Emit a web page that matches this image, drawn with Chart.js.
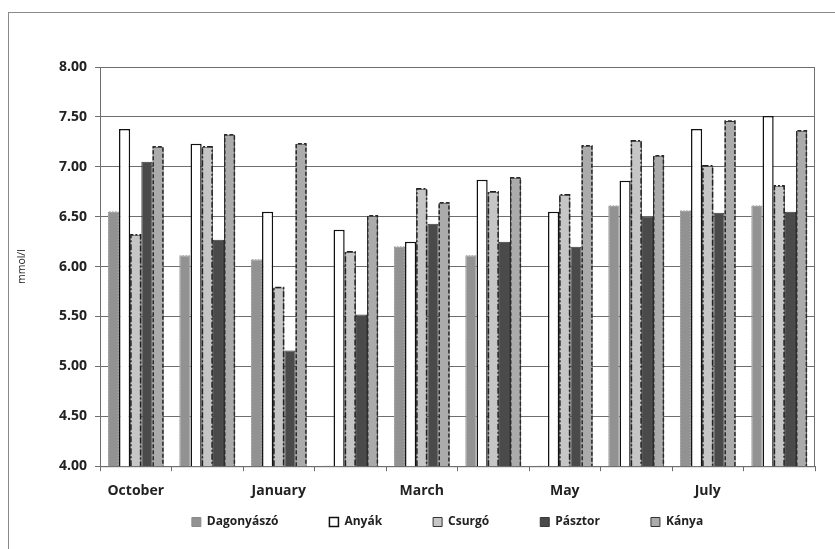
<!DOCTYPE html>
<html>
<head>
<meta charset="utf-8">
<script src="https://cdn.jsdelivr.net/npm/chart.js"></script>
<style>
  body { margin: 0; background: #fff; }
  #wrap { position: relative; width: 835px; height: 549px; overflow: hidden; }
  #frame { position: absolute; left: 8px; top: 12px; width: 900px; height: 600px;
           border-left: 1px solid #8a8a8a; border-top: 1px solid #8a8a8a; }
  canvas { position: absolute; left: 0; top: 0; }
</style>
</head>
<body>
<div id="wrap">
  <div id="frame"></div>
  <canvas id="chart" width="835" height="549"></canvas>
</div>
<script>
const months = ['October', 'November', 'January', 'February', 'March', 'April', 'May', 'June', 'July', 'August'];
const dagonyaszo = [6.55, 6.11, 6.07, null, 6.20, 6.11, null, 6.61, 6.56, 6.61];
const anyak      = [7.38, 7.23, 6.55, 6.37, 6.25, 6.87, 6.55, 6.86, 7.38, 7.51];
const csurgo     = [6.32, 7.20, 5.79, 6.15, 6.78, 6.75, 6.72, 7.26, 7.01, 6.81];
const pasztor    = [7.05, 6.27, 5.16, 5.52, 6.43, 6.25, 6.20, 6.50, 6.54, 6.55];
const kanya      = [7.20, 7.32, 7.23, 6.51, 6.64, 6.89, 7.21, 7.11, 7.46, 7.36];
const yTicks = [4.00, 4.50, 5.00, 5.50, 6.00, 6.50, 7.00, 7.50, 8.00];

const FONT = '"Open Sans", "Liberation Sans", sans-serif';
const LEGEND_PAD = 51;

// dashed outlines drawn on top of bars (bar borders can't be dashed in chart.js)
const dashOutline = {
  id: 'dashOutline',
  afterDatasetsDraw(chart) {
    const ctx = chart.ctx;
    const bottom = chart.chartArea.bottom;
    chart.data.datasets.forEach((ds, i) => {
      if (!ds.outlineDash) return;
      const meta = chart.getDatasetMeta(i);
      ctx.save();
      ctx.strokeStyle = ds.outlineColor;
      ctx.lineWidth = ds.outlineWidth || 1.5;
      ctx.setLineDash(ds.outlineDash);
      meta.data.forEach(el => {
        const p = el.getProps(['x', 'y', 'base', 'width'], true);
        if (!Number.isFinite(p.y)) return;
        const l = p.x - p.width / 2 + 0.75, r = p.x + p.width / 2 - 0.75;
        const b = Math.min(p.base, bottom);
        ctx.beginPath();
        ctx.moveTo(l, b);
        ctx.lineTo(l, p.y);
        ctx.lineTo(r, p.y);
        ctx.lineTo(r, b);
        ctx.stroke();
      });
      ctx.restore();
    });
  }
};

// box round the plot area, and move the legend row
// (legend padding is big for the wide item gaps, which would push it too low)
const plotBox = {
  id: 'plotBox',
  afterLayout(chart) {
    const lg = chart.legend;
    lg.top = 516 - LEGEND_PAD;
    lg.left += 34;
    lg.right += 34;
  },
  afterDraw(chart) {
    const a = chart.chartArea, ctx = chart.ctx;
    ctx.save();
    ctx.strokeStyle = '#6e6e6e';
    ctx.lineWidth = 1;
    ctx.strokeRect(a.left + 0.5, a.top + 0.5, a.right - a.left - 1, a.bottom - a.top);
    ctx.restore();
  }
};

new Chart(document.getElementById('chart'), {
  type: 'bar',
  data: {
    labels: months,
    datasets: [
      { label: 'Dagonyászó', data: dagonyaszo, backgroundColor: '#929292', borderColor: '#8a8a8a', borderWidth: 1,
        outlineDash: [1.5, 1.5], outlineColor: '#b0b0b0', outlineWidth: 1 },
      { label: 'Anyák', data: anyak, backgroundColor: '#ffffff', borderColor: '#111111', borderWidth: 1.5 },
      { label: 'Csurgó', data: csurgo, backgroundColor: '#c6c6c6', borderColor: '#333333', borderWidth: 1,
        outlineDash: [6, 2, 2, 2], outlineColor: '#222222', outlineWidth: 1.5 },
      { label: 'Pásztor', data: pasztor, backgroundColor: '#4a4a4a', borderColor: '#3a3a3a', borderWidth: 1 },
      { label: 'Kánya', data: kanya, backgroundColor: '#ababab', borderColor: '#333333', borderWidth: 1,
        outlineDash: [4, 2], outlineColor: '#2a2a2a', outlineWidth: 1.5 }
    ]
  },
  options: {
    responsive: false,
    animation: false,
    layout: { padding: { left: 12, right: 20, top: 67, bottom: 0 } },
    datasets: { bar: { barPercentage: 1, categoryPercentage: 0.78 } },
    plugins: {
      legend: {
        position: 'bottom',
        maxHeight: 39,
        labels: {
          color: '#222', boxWidth: 9, boxHeight: 9, padding: LEGEND_PAD,
          font: { family: FONT, size: 12, weight: 'bold' }
        }
      },
      tooltip: { enabled: false }
    },
    scales: {
      x: {
        grid: { display: true, drawOnChartArea: false, drawTicks: true, tickLength: 5, color: '#6e6e6e' },
        border: { color: '#6e6e6e' },
        ticks: {
          autoSkip: false, maxRotation: 0, padding: 11, color: '#222',
          font: { family: FONT, size: 14, weight: 'bold' },
          callback: (v, i) => (i % 2 === 0 ? months[i] : '')
        }
      },
      y: {
        min: 4, max: 8,
        afterBuildTicks: s => { s.ticks = yTicks.map(v => ({ value: v })); },
        afterFit: s => { s.width = 88; },
        grid: { color: '#6e6e6e', tickLength: 5 },
        border: { color: '#6e6e6e' },
        title: { display: true, text: 'mmol/l', color: '#222', font: { family: FONT, size: 10.5 } },
        ticks: {
          color: '#222', padding: 8,
          font: { family: FONT, size: 14, weight: 'bold' },
          callback: v => Number(v).toFixed(2)
        }
      }
    }
  },
  plugins: [dashOutline, plotBox]
});
</script>
</body>
</html>
